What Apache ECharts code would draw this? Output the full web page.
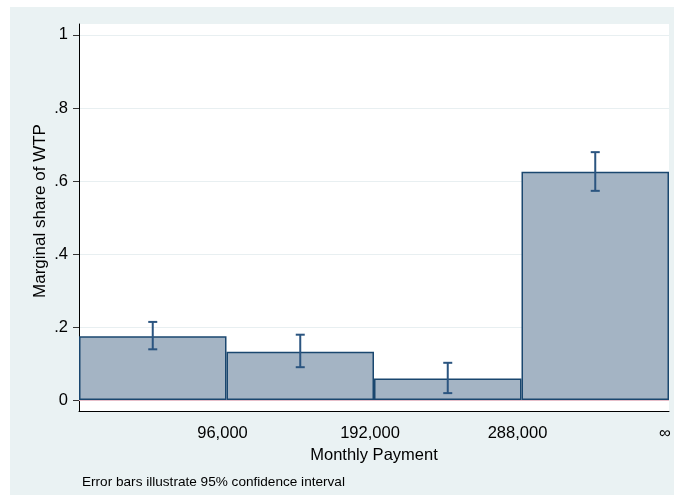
<!DOCTYPE html>
<html>
<head>
<meta charset="utf-8">
<script src="https://cdn.jsdelivr.net/npm/echarts@6/dist/echarts.min.js"></script>
<style>
  html, body { margin: 0; padding: 0; background: #ffffff; }
  #chart { width: 674px; height: 495px; }
</style>
</head>
<body>
<div id="chart"></div>
<script>
// Payment bins (upper bounds shown at the bin edges)
const bins = ['0–96,000', '96,000–192,000', '192,000–288,000', '288,000–∞'];
const edgeLabels = ['96,000', '192,000', '288,000', '∞'];
// Marginal share of WTP per bin and its 95% confidence interval
const share = [0.175, 0.132, 0.059, 0.625];
const ciLow = [0.139, 0.090, 0.019, 0.573];
const ciHigh = [0.214, 0.179, 0.102, 0.679];
const yTicks = [0, 0.2, 0.4, 0.6, 0.8, 1];

const FONT = '"Liberation Sans", Arial, Helvetica, sans-serif';
const NAVY = '#1a476f';

const chart = echarts.init(document.getElementById('chart'), null, { renderer: 'canvas' });

const errorData = bins.map((b, i) => [i, ciLow[i], ciHigh[i]]);

chart.setOption({
  animation: false,
  backgroundColor: '#ffffff',
  graphic: [
    { type: 'rect', z: -10, silent: true, shape: { x: 10, y: 7, width: 700, height: 500 }, style: { fill: '#eaf2f3' } },
    { type: 'text', z: 10, x: 40, y: 211, rotation: Math.PI / 2,
      style: { x: 0, y: 0, text: 'Marginal share of WTP', font: '17px ' + FONT, fill: '#000', textAlign: 'center', textVerticalAlign: 'middle' } },
    { type: 'text', z: 10,
      style: { x: 374, y: 455, text: 'Monthly Payment', font: '16.5px ' + FONT, fill: '#000', textAlign: 'center', textVerticalAlign: 'middle' } },
    { type: 'text', z: 10,
      style: { x: 82, y: 482, text: 'Error bars illustrate 95% confidence interval', font: '13.6px ' + FONT, fill: '#000', textAlign: 'left', textVerticalAlign: 'middle' } }
  ],
  grid: {
    left: 79, right: 5, top: 24, bottom: 84,
    show: true, backgroundColor: '#ffffff', borderWidth: 0
  },
  xAxis: [
    {
      type: 'category', data: bins, position: 'bottom',
      boundaryGap: true,
      axisLine: { show: false }, axisTick: { show: false }, axisLabel: { show: false }, splitLine: { show: false }
    },
    {
      type: 'value', min: 0, max: 4, interval: 1, position: 'bottom',
      axisLine: { show: true, onZero: false, lineStyle: { color: '#000', width: 1 } },
      axisTick: { show: false },
      splitLine: { show: false },
      axisLabel: {
        show: true, margin: 14, fontFamily: FONT, fontSize: 16.5, color: '#000',
        padding: [0, 8, 0, 0],
        formatter: v => (v >= 1 && v <= 4 && Number.isInteger(v)) ? edgeLabels[v - 1] : ''
      }
    }
  ],
  yAxis: {
    type: 'value', min: -0.03, max: 1.03,
    axisLine: { show: true, lineStyle: { color: '#000', width: 1 } },
    axisTick: { show: true, length: 6, customValues: yTicks, lineStyle: { color: '#333', width: 1 } },
    axisLabel: {
      show: true, margin: 11, fontFamily: FONT, fontSize: 16.5, color: '#000',
      customValues: yTicks,
      formatter: v => v === 0 ? '0' : (v === 1 ? '1' : String(Math.round(v * 10) / 10).replace(/^0/, ''))
    },
    splitLine: { show: true, lineStyle: { color: '#e8eff1', width: 1 } }
  },
  series: [
    {
      type: 'bar', xAxisIndex: 0, data: share,
      barWidth: '100%', barGap: '0%', barCategoryGap: '0%',
      itemStyle: { color: '#a4b4c4', borderColor: NAVY, borderWidth: 1.5 },
      markLine: {
        silent: true, symbol: 'none', z: 1,
        label: { show: false },
        lineStyle: { color: '#e6bfca', width: 1, type: 'solid' },
        data: [{ yAxis: 0 }]
      },
      z: 2
    },
    {
      type: 'custom', xAxisIndex: 0, data: errorData, z: 5,
      renderItem: (params, api) => {
        const i = api.value(0);
        const lo = api.coord([i, api.value(1)]);
        const hi = api.coord([i, api.value(2)]);
        const cap = 4.5;
        const style = { stroke: '#2b5580', lineWidth: 2 };
        return {
          type: 'group',
          children: [
            { type: 'line', shape: { x1: lo[0], y1: lo[1], x2: hi[0], y2: hi[1] }, style },
            { type: 'line', shape: { x1: hi[0] - cap, y1: hi[1], x2: hi[0] + cap, y2: hi[1] }, style },
            { type: 'line', shape: { x1: lo[0] - cap, y1: lo[1], x2: lo[0] + cap, y2: lo[1] }, style }
          ]
        };
      }
    }
  ]
});
</script>
</body>
</html>
